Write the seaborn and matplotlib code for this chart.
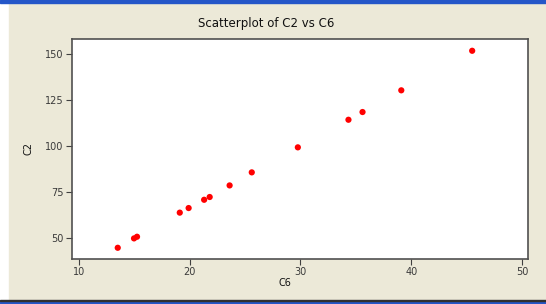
import numpy as np
import pandas as pd
import seaborn as sns
import matplotlib.pyplot as plt
from matplotlib.patches import Rectangle

c6 = [13.5, 14.97, 15.24, 19.1, 19.9, 21.3, 21.8, 23.6, 25.6, 29.76, 34.33, 35.6, 39.1, 45.5]
c2 = [44.7, 49.8, 50.7, 63.8, 66.3, 70.8, 72.3, 78.6, 85.7, 99.3, 114.3, 118.5, 130.3, 151.8]
xticks = [10, 20, 30, 40, 50]
yticks = [50, 75, 100, 125, 150]

df = pd.DataFrame({'C6': c6, 'C2': c2})

sns.set_style('white')
plt.rcParams['font.family'] = ['DejaVu Sans']

fig = plt.figure(figsize=(5.46, 3.04), dpi=100)
fig.patch.set_facecolor('white')

# window background + borders
fig.patches.append(Rectangle((9/546, 0), 1, 1, transform=fig.transFigure, color='#ECE9D8', zorder=-10))
fig.patches.append(Rectangle((0, 1 - 3/304), 1, 3/304, transform=fig.transFigure, color='#2456C8', zorder=-5))
fig.patches.append(Rectangle((0, 0), 1, 3/304, transform=fig.transFigure, color='#2456C8', zorder=-5))
fig.patches.append(Rectangle((0, 3/304), 1, 1/304, transform=fig.transFigure, color='#303030', zorder=-5))

ax = fig.add_axes([72/546, 1 - 259/304, 456/546, 220/304])
ax.set_facecolor('white')
sns.scatterplot(data=df, x='C6', y='C2', ax=ax, color='#FF0000', s=20, edgecolor='none')

ax.set_xlim(9.37, 50.54)
ax.set_ylim(38.6, 158.2)
ax.set_xticks(xticks)
ax.set_yticks(yticks)
ax.set_xlabel('')
ax.set_ylabel('')
ax.tick_params(axis='both', direction='out', length=4, width=0.8, color='#404040',
               labelsize=7, labelcolor='#3a3a3a', pad=2, bottom=True, left=True)
for sp in ax.spines.values():
    sp.set_color('#505050')
    sp.set_linewidth(1.2)

fig.text(266/546, 1 - 24/304, 'Scatterplot of C2 vs C6', ha='center', va='center', fontsize=8.5, color='#111111')
fig.text(285/546, 1 - 283/304, 'C6', ha='center', va='center', fontsize=7, color='#111111')
fig.text(29/546, 1 - 149/304, 'C2', ha='center', va='center', fontsize=7, color='#111111', rotation=90)

plt.savefig('out.png', dpi=100)
